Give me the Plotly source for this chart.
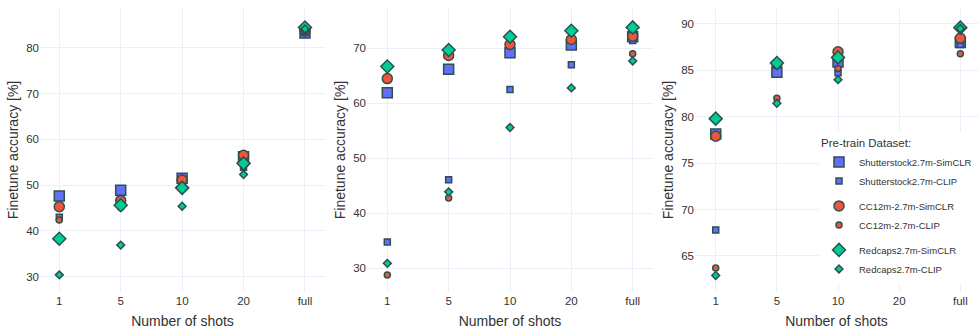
import plotly.graph_objects as go

# Few-shot finetune accuracy (%) for three downstream tasks
shots = ["1", "5", "10", "20", "full"]

# Task A
a_shutter_simclr = [47.6, 48.9, 51.5, 56.2, 83.2]
a_shutter_clip = [43.0, 45.9, 50.5, 53.9, 83.3]
a_cc12m_simclr = [45.3, 46.6, 51.1, 56.5, 83.7]
a_cc12m_clip = [42.4, 45.1, 49.9, 54.9, 83.6]
a_redcaps_simclr = [38.3, 45.6, 49.4, 54.75, 84.4]
a_redcaps_clip = [30.4, 36.9, 45.4, 52.3, 84.1]

# Task B
b_shutter_simclr = [61.9, 66.2, 69.2, 70.6, 72.1]
b_shutter_clip = [34.8, 46.1, 62.5, 67.0, 71.4]
b_cc12m_simclr = [64.5, 68.7, 70.7, 71.6, 72.2]
b_cc12m_clip = [28.8, 42.8, 72.0, 73.0, 69.0]
b_redcaps_simclr = [66.7, 69.7, 72.1, 73.2, 73.8]
b_redcaps_clip = [30.9, 43.9, 55.6, 62.8, 67.7]

# Task C (no 20-shot run)
c_shutter_simclr = [78.15, 84.8, 85.9, None, 88.0]
c_shutter_clip = [67.8, 85.6, 84.75, None, 87.8]
c_cc12m_simclr = [77.9, 85.7, 87.0, None, 88.45]
c_cc12m_clip = [63.7, 82.0, 85.2, None, 86.8]
c_redcaps_simclr = [79.8, 85.8, 86.4, None, 89.6]
c_redcaps_clip = [62.9, 81.45, 84.0, None, 89.5]

series_names = [
    "Shutterstock2.7m-SimCLR", "Shutterstock2.7m-CLIP",
    "CC12m-2.7m-SimCLR", "CC12m-2.7m-CLIP",
    "Redcaps2.7m-SimCLR", "Redcaps2.7m-CLIP",
]
groups = ["shutter", "shutter", "cc12m", "cc12m", "redcaps", "redcaps"]
colors = ["#636EFA", "#636EFA", "#EF553B", "#EF553B", "#00CC96", "#00CC96"]
symbols = ["square", "square", "circle", "circle", "diamond", "diamond"]
sizes = [10, 6, 10, 6, 10, 6]

panels = [
    [a_shutter_simclr, a_shutter_clip, a_cc12m_simclr, a_cc12m_clip, a_redcaps_simclr, a_redcaps_clip],
    [b_shutter_simclr, b_shutter_clip, b_cc12m_simclr, b_cc12m_clip, b_redcaps_simclr, b_redcaps_clip],
    [c_shutter_simclr, c_shutter_clip, c_cc12m_simclr, c_cc12m_clip, c_redcaps_simclr, c_redcaps_clip],
]

W, H = 978, 329
x_domains = [[40 / W, 325 / W], [367 / W, 653 / W], [695 / W, 1.0]]
x_ranges = [[-0.314, 4.326], [-0.331, 4.331], [-0.339, 4.289]]
y_ranges = [[26.66, 88.67], [25.69, 77.33], [61.12, 91.72]]
y_dticks = [10, 10, 5]

text_color = "#333333"
grid_color = "#EBF0F8"

fig = go.Figure()
for p, panel in enumerate(panels):
    suffix = "" if p == 0 else str(p + 1)
    for i, values in enumerate(panel):
        fig.add_trace(go.Scatter(
            x=shots, y=values, mode="markers",
            name=series_names[i], legendgroup=groups[i],
            showlegend=(p == 2),
            xaxis="x" + suffix, yaxis="y" + suffix,
            marker=dict(color=colors[i], symbol=symbols[i], size=sizes[i],
                        line=dict(color="DarkSlateGrey", width=1.5)),
        ))

layout = dict(
    width=W, height=H,
    margin=dict(l=0, r=0, t=8, b=37),
    paper_bgcolor="white", plot_bgcolor="white",
    font=dict(family="Arial, Liberation Sans, sans-serif", size=11.5, color=text_color),
    legend=dict(
        title=dict(text="Pre-train Dataset:", font=dict(size=11.5)),
        font=dict(size=9.5),
        x=819 / W, xanchor="left",
        y=0.03, yanchor="bottom",
        bgcolor="white", tracegroupgap=6,
    ),
)
for p in range(3):
    suffix = "" if p == 0 else str(p + 1)
    layout["xaxis" + suffix] = dict(
        domain=x_domains[p], anchor="y" + suffix,
        type="category", categoryorder="array", categoryarray=shots,
        range=x_ranges[p], showgrid=True, gridcolor=grid_color, gridwidth=1,
        showline=False, zeroline=False, ticks="", automargin=False,
        title=dict(text="Number of shots", font=dict(size=14)),
    )
    layout["yaxis" + suffix] = dict(
        domain=[0, 1], anchor="x" + suffix,
        range=y_ranges[p], dtick=y_dticks[p],
        showgrid=True, gridcolor=grid_color, gridwidth=1,
        showline=False, zeroline=False, ticks="", automargin=False,
        title=dict(text="Finetune accuracy [%]", font=dict(size=14), standoff=4),
    )
fig.update_layout(**layout)

fig.write_html("out.html")
